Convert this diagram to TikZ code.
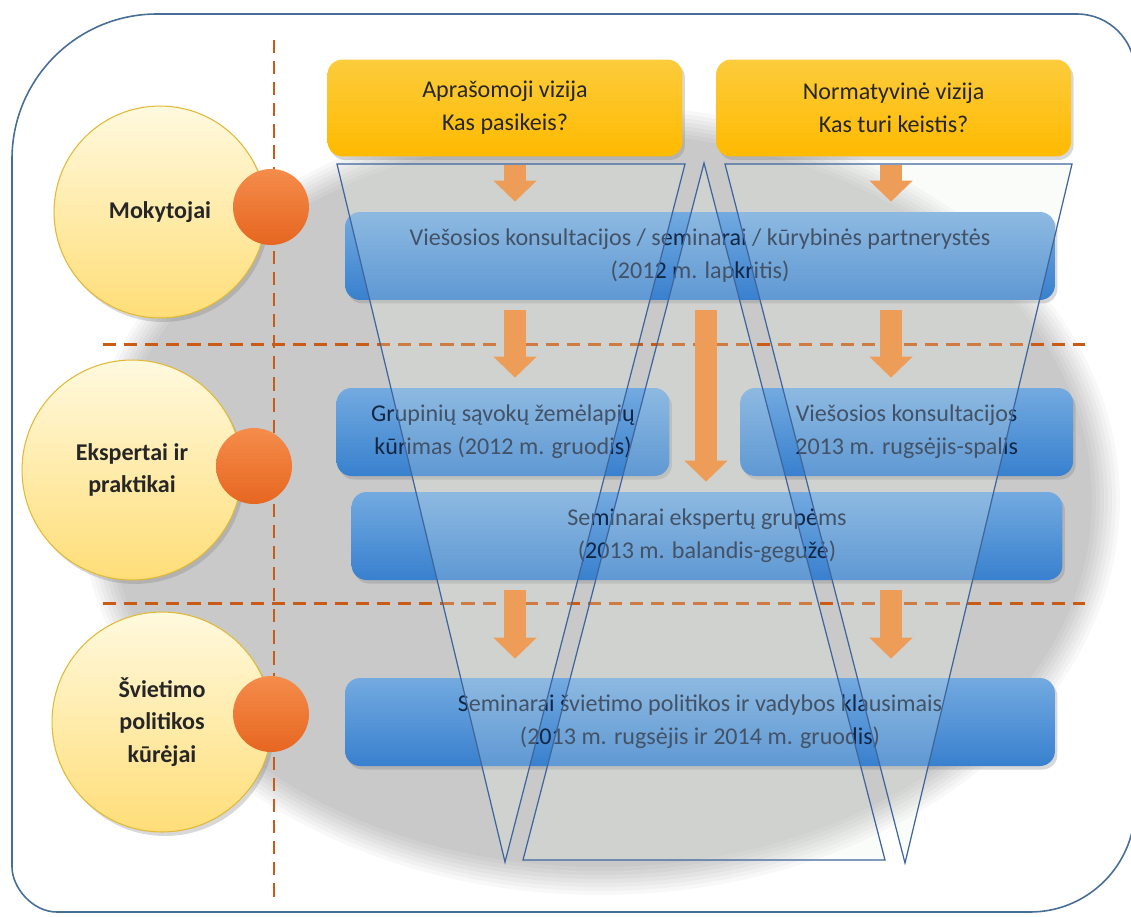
\documentclass[tikz,border=0pt]{standalone}
\usepackage{fontspec}
\setmainfont{Carlito}
\usetikzlibrary{positioning, arrows.meta, shadows}

\definecolor{frameblue}{RGB}{70,110,150}
\definecolor{dashorange}{RGB}{200,92,22}
\definecolor{circletop}{RGB}{255,249,222}
\definecolor{circlebottom}{RGB}{255,222,120}
\definecolor{circleedge}{RGB}{225,185,55}
\definecolor{dottop}{RGB}{245,140,75}
\definecolor{dotbottom}{RGB}{230,102,32}
\definecolor{visiontop}{RGB}{252,204,60}
\definecolor{visionbottom}{RGB}{255,186,0}
\definecolor{stagetop}{RGB}{115,170,224}
\definecolor{stagebottom}{RGB}{56,128,206}
\definecolor{stagetext}{RGB}{20,38,66}
\definecolor{flowcolor}{RGB}{240,134,48}
\definecolor{funnelline}{RGB}{62,102,158}
\definecolor{funnelfill}{RGB}{235,242,232}

\begin{document}
\begin{tikzpicture}[x=0.02cm, y=-0.02cm,
  group/.style={circle, minimum size=4.4cm, inner sep=0pt, align=center, draw=circleedge, line width=0.6pt, top color=circletop, bottom color=circlebottom, text=black!85, font=\fontsize{13.7}{18.7}\selectfont\bfseries, drop shadow={shadow xshift=0.06cm, shadow yshift=-0.08cm, opacity=0.3}},
  dot/.style={circle, minimum size=1.52cm, inner sep=0pt, top color=dottop, bottom color=dotbottom},
  vision/.style={rectangle, rounded corners=0.3cm, minimum width=7.1cm, minimum height=1.94cm, align=center, top color=visiontop, bottom color=visionbottom, text=black!85, font=\fontsize{13.7}{18.7}\selectfont, drop shadow={shadow xshift=0.05cm, shadow yshift=-0.07cm, opacity=0.3}},
  stage/.style={rectangle, rounded corners=0.3cm, minimum height=1.76cm, align=center, top color=stagetop, bottom color=stagebottom, text=stagetext, font=\fontsize{13.7}{18.7}\selectfont, drop shadow={shadow xshift=0.05cm, shadow yshift=-0.07cm, opacity=0.3}},
  flow/.style={draw=flowcolor, line width=0.44cm, -{Triangle[length=0.42cm, width=0.84cm]}, shorten <=0.2cm, shorten >=0.2cm},
  funnel/.style={draw=funnelline, line width=0.7pt, fill=funnelfill, fill opacity=0.22},
  divider/.style={draw=dashorange, line width=1.7pt, dash pattern=on 7.5pt off 4.5pt}]

  \useasboundingbox (0,0) rectangle (1131,916);
  \clip (0,0) rectangle (1131,916);

  % Frame
  \draw[frameblue, line width=0.9pt, fill=white] (12,159) .. controls (12,79) and (77,14) .. (157,14) -- (1077,14)
    .. controls (1109,14) and (1135,40) .. (1135,72) -- (1135,807)
    .. controls (1135,865) and (1088,912) .. (1030,912) -- (57,912)
    .. controls (32,912) and (12,887) .. (12,867) -- cycle;

  % Background
  \foreach \i in {0,...,7}
    \fill[black, opacity=0.028] (600,500) ellipse ({10.4cm-\i*0.08cm} and {7.9cm-\i*0.08cm});

  % Dividers
  \draw[divider] (274,40) -- (274,897);
  \draw[divider] (103,344) -- (1085,344);
  \draw[divider] (103,603) -- (1085,603);

  % Nodes
  \node (mokytojai) [group, minimum size=4.24cm] at (160,212) {Mokytojai};
  \node (ekspertai) [group] at (132,470) {Ekspertai ir\\praktikai};
  \node (svietimas) [group] at (162,722) {Švietimo\\politikos\\kūrėjai};
  \node (dotMok) [dot] at (271,207) {};
  \node (dotEks) [dot] at (254,466) {};
  \node (dotSvi) [dot] at (271,714) {};

  \node (aprasomoji) [vision] at (505,108) {Aprašomoji vizija\\Kas pasikeis?};
  \node (normatyvine) [vision, right=0.66cm of aprasomoji] {Normatyvinė vizija\\Kas turi keistis?};

  \node (konsultacijos) [stage, minimum width=14.2cm] at (700,256) {Viešosios konsultacijos / seminarai / kūrybinės partnerystės\\(2012 m. lapkritis)};
  \node (grupiniu) [stage, minimum width=6.66cm] at (503,432) {Grupinių sąvokų žemėlapių\\kūrimas (2012 m. gruodis)};
  \node (viesosios) [stage, minimum width=6.66cm, right=1.4cm of grupiniu] {Viešosios konsultacijos\\2013 m. rugsėjis-spalis};
  \node (ekspertu) [stage, minimum width=14.22cm] at (707,536) {Seminarai ekspertų grupėms\\(2013 m. balandis-gegužė)};
  \node (seminarai) [stage, minimum width=14.2cm] at (700,722) {Seminarai švietimo politikos ir vadybos klausimais\\(2013 m. rugsėjis ir 2014 m. gruodis)};

  \coordinate (colL) at (515,0);
  \coordinate (colM) at (706,0);
  \coordinate (colR) at (891,0);

  % Arrows
  \draw[flow, shorten <=0.16cm] (aprasomoji.south -| colL) -- (konsultacijos.north -| colL);
  \draw[flow, shorten <=0.16cm] (normatyvine.south -| colR) -- (konsultacijos.north -| colR);
  \draw[flow] (konsultacijos.south -| colL) -- (grupiniu.north -| colL);
  \draw[flow] (konsultacijos.south -| colR) -- (viesosios.north -| colR);
  \draw[flow] (konsultacijos.south -| colM) -- (ekspertu.north -| colM);
  \draw[flow, shorten >=0.38cm] (ekspertu.south -| colL) -- (seminarai.north -| colL);
  \draw[flow, shorten >=0.38cm] (ekspertu.south -| colR) -- (seminarai.north -| colR);

  % Funnels
  \draw[funnel] (337,164) -- (685,164) -- (505,862) -- cycle;
  \draw[funnel] (704,163) -- (885,860) -- (523,860) -- cycle;
  \draw[funnel] (725,164) -- (1072,164) -- (905,863) -- cycle;

\end{tikzpicture}
\end{document}
